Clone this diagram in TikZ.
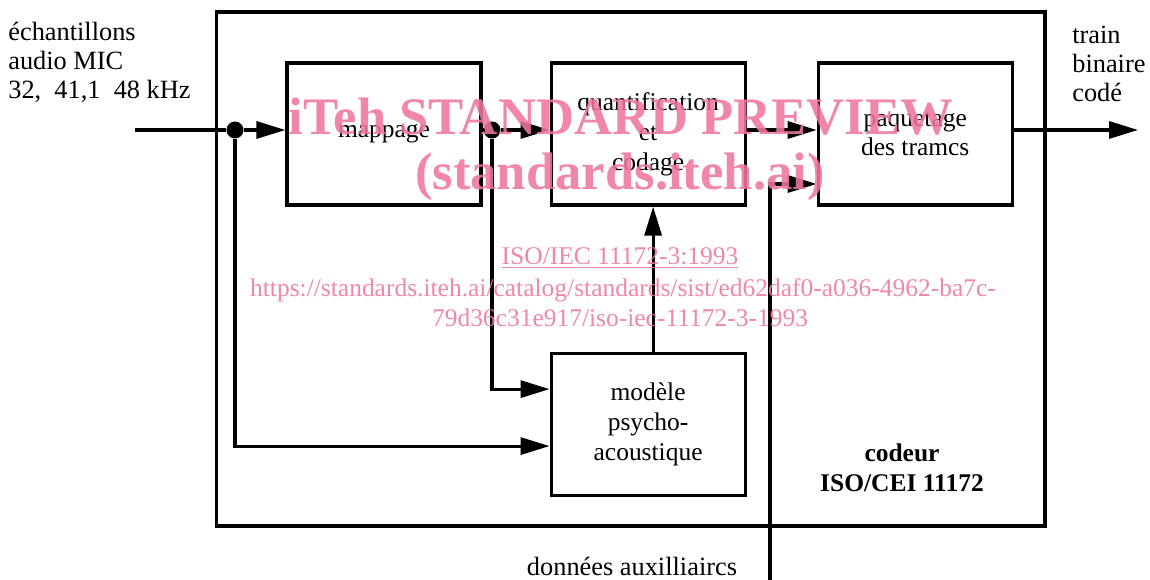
\documentclass[tikz,border=0pt]{standalone}
\usepackage{fontspec}
\setmainfont{Liberation Serif}
\usetikzlibrary{positioning, arrows.meta}
\definecolor{wmpink}{RGB}{238,118,156}
\tikzset{
  >={Triangle[length=0.58cm,width=0.34cm]},
  node distance=1.35cm,
  block/.style={draw, line width=1.8pt, minimum width=3.88cm, minimum height=2.84cm,
    align=center, inner sep=0pt, font=\fontsize{14.5}{17}\selectfont},
  flow/.style={->, line width=1.8pt},
  wire/.style={line width=1.8pt},
  junction/.style={circle, fill, inner sep=0pt, minimum size=0.34cm},
  sidetext/.style={align=left, inner sep=0pt, font=\fontsize{15}{16.5}\selectfont},
  watermark/.style={text=wmpink, opacity=0.88, inner sep=0pt, anchor=base},
}

\begin{document}
\begin{tikzpicture}[x=0.02cm, y=-0.02cm]
  \useasboundingbox (0,0) rectangle (1150,580);

  \node[draw, line width=1.8pt, minimum width=16.58cm, minimum height=10.28cm,
        inner sep=0pt] (coder) at (630.5,269) {};
  \node[block] (map) at (384,134) {mappage};
  \node[block, right=1.34cm of map] (quant) {quantification\\et\\codage};
  \node[block, right=1.4cm of quant] (paq) {paquetage\\des tramcs};
  \node[block, below=2.9cm of quant] (psy) {modèle\\psycho-\\acoustique};

  \coordinate (src) at (135,130);
  \coordinate (dst) at (1138,130);
  \coordinate (aux) at (770,580);
  \node[junction] (j1) at (235,130) {};
  \node[junction] (j2) at (492,130) {};

  \draw[wire] (src) -- (j1);
  \draw[flow] (j1) -- (j1 -| map.west);
  \draw[flow] (j1) |- ([yshift=-0.44cm]psy.west);
  \draw[wire] (map.east |- j2) -- (j2);
  \draw[flow] (j2) -- (j2 -| quant.west);
  \draw[flow] (j2) |- ([yshift=0.7cm]psy.west);
  \draw[flow] (quant.east |- j2) -- (paq.west |- j2);
  \draw[flow] ([xshift=0.1cm]psy.north) -- ([xshift=0.1cm]quant.south);
  \draw[flow] (aux) |- ([yshift=-1.0cm]paq.west);
  \draw[flow] (paq.east |- j1) -- (dst);

  \node[sidetext, anchor=north west] (inlabel) at (8,22)
    {échantillons\\audio MIC\\32,\ \ 41,1\ \ 48 kHz};
  \node[sidetext, anchor=north west] (outlabel) at (1072,26) {train\\binaire\\codé};
  \node[align=center, font=\bfseries\fontsize{14.5}{17}\selectfont] (coderlabel)
    at (902,468) {codeur\\ISO/CEI 11172};
  \node[anchor=base, inner sep=0pt, font=\fontsize{15}{17}\selectfont] (auxlabel)
    at (632,576) {données auxilliaircs};

  % overprint
  \node[watermark, font=\bfseries\fontsize{30}{34}\selectfont] (wmtitle) at (621,135)
    {iTeh STANDARD PREVIEW};
  \node[watermark, font=\bfseries\fontsize{30}{34}\selectfont] (wmsite) at (620,190)
    {(standards.iteh.ai)};
  \node[watermark, font=\fontsize{14.5}{16}\selectfont] (wmref) at (620,265)
    {\underline{ISO/IEC 11172-3:1993}};
  \node[watermark, font=\fontsize{14.5}{16}\selectfont] (wmurl) at (623,297)
    {https://standards.iteh.ai/catalog/standards/sist/ed62daf0-a036-4962-ba7c-};
  \node[watermark, font=\fontsize{14.5}{16}\selectfont] (wmurl2) at (620,327)
    {79d36c31e917/iso-iec-11172-3-1993};
\end{tikzpicture}
\end{document}
